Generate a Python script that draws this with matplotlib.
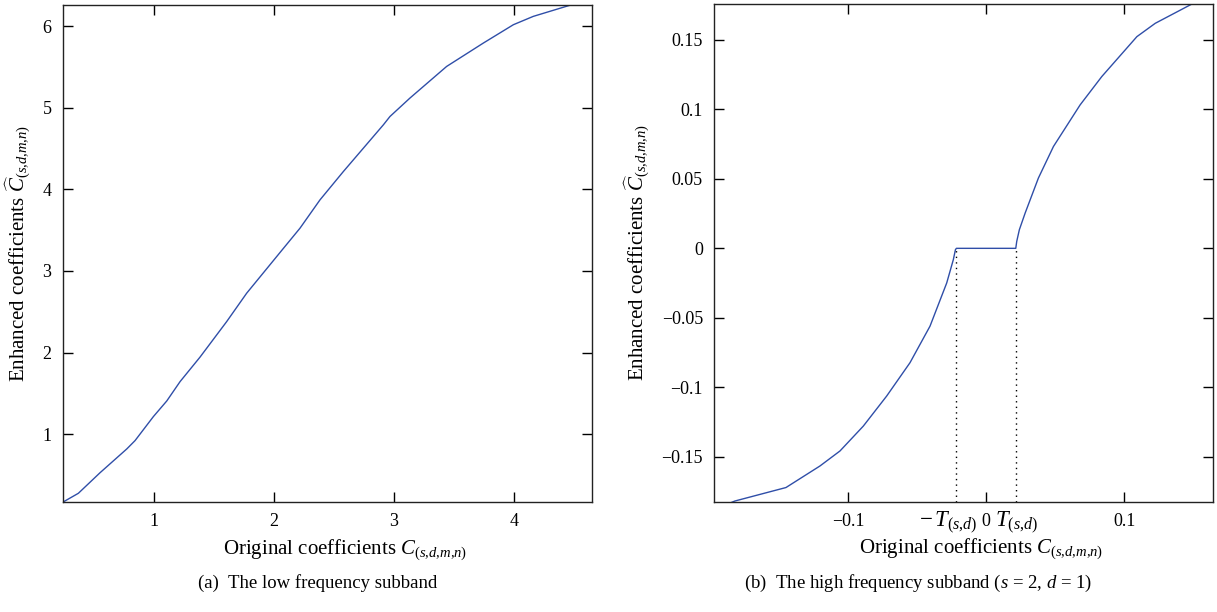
import numpy as np
import matplotlib
matplotlib.use("Agg")
import matplotlib.pyplot as plt
import matplotlib.transforms as mtransforms

plt.rcParams['font.family'] = ['Liberation Serif', 'DejaVu Serif']
plt.rcParams['mathtext.fontset'] = 'custom'
plt.rcParams['mathtext.rm'] = 'Liberation Serif'
plt.rcParams['mathtext.it'] = 'Liberation Serif:italic'
plt.rcParams['font.size'] = 13

# (a) low frequency subband: original -> enhanced coefficients
low_x = [0.235, 0.366, 0.547, 0.770, 0.839, 0.992, 1.104, 1.215, 1.381, 1.604,
         1.771, 1.938, 2.072, 2.216, 2.383, 2.578, 2.912, 2.967, 3.134, 3.440,
         3.746, 3.997, 4.163, 4.484, 4.656]
low_y = [0.167, 0.277, 0.529, 0.820, 0.922, 1.216, 1.408, 1.645, 1.944, 2.380,
         2.728, 3.027, 3.267, 3.524, 3.871, 4.218, 4.790, 4.892, 5.118, 5.505,
         5.791, 6.016, 6.118, 6.261, 6.300]

# (b) high frequency subband (s = 2, d = 1)
thr = 0.0215
high_x = [-0.197, -0.1819, -0.1449, -0.1203, -0.1058, -0.0889, -0.0720, -0.0551,
          -0.0406, -0.0285, -0.0237, -0.0222, -thr, thr, 0.0222, 0.0241, 0.0283,
          0.0379, 0.0488, 0.0681, 0.0838, 0.1092, 0.1225, 0.1491, 0.1643]
high_y = [-0.188, -0.1818, -0.1721, -0.1566, -0.1458, -0.1279, -0.1063, -0.0823,
          -0.0560, -0.0249, -0.0081, -0.0010, 0.0, 0.0, 0.0050, 0.0134, 0.0254,
          0.0506, 0.0733, 0.1032, 0.1236, 0.1523, 0.1619, 0.1758, 0.1850]

line_color = '#2f4ea8'
sub = '{(s{,}d{,}m{,}n)}'
label_size = 15

fig = plt.figure(figsize=(12.17, 6.12), dpi=100)
ax1 = fig.add_axes([0.0515, 0.1793, 0.4352, 0.813])
ax2 = fig.add_axes([0.5867, 0.1802, 0.41, 0.8133])

for ax in (ax1, ax2):
    ax.tick_params(direction='in', length=7, width=1, top=True, right=True,
                   labelsize=13, pad=8)
    for sp in ax.spines.values():
        sp.set_linewidth(1)
        sp.set_color('#222222')

# left panel
ax1.plot(low_x, low_y, color=line_color, linewidth=1)
ax1.set_xlim(0.235, 4.656)
ax1.set_ylim(0.167, 6.261)
ax1.set_xticks([1, 2, 3, 4])
ax1.set_yticks([1, 2, 3, 4, 5, 6])
ax1.set_xlabel('Original coefficients $C_' + sub + '$', fontsize=label_size)
ax1.xaxis.set_label_coords(0.533, -0.07)
ax1.set_ylabel('Enhanced coefficients $\\widehat{C}_' + sub + '$', fontsize=label_size,
               labelpad=7)

# right panel
ax2.plot(high_x, high_y, color=line_color, linewidth=1)
ax2.set_xlim(-0.197, 0.1643)
ax2.set_ylim(-0.1823, 0.1758)
ax2.set_xticks([-0.1, 0, 0.1])
ax2.set_xticklabels(['\u22120.1', '0', '0.1'])
ax2.set_yticks([-0.15, -0.1, -0.05, 0, 0.05, 0.1, 0.15])
ax2.set_yticklabels(['\u22120.15', '\u22120.1', '\u22120.05', '0', '0.05', '0.1', '0.15'])
ax2.plot([-thr, -thr], [-0.1823, 0], color='black', linestyle=(0, (1, 3)), linewidth=1)
ax2.plot([thr, thr], [-0.1823, 0], color='black', linestyle=(0, (1, 3)), linewidth=1)
trans = mtransforms.blended_transform_factory(ax2.transData, ax2.transAxes)
ax2.text(-0.0058, -0.017, '$-\\,T_{(s{,}d)}$', transform=trans, ha='right', va='top',
         fontsize=16.5)
ax2.text(0.0065, -0.017, '$T_{(s{,}d)}$', transform=trans, ha='left', va='top',
         fontsize=16.5)
ax2.set_xlabel('Original coefficients $C_' + sub + '$', fontsize=label_size)
ax2.xaxis.set_label_coords(0.536, -0.07)
ax2.set_ylabel('Enhanced coefficients $\\widehat{C}_' + sub + '$', fontsize=label_size,
               labelpad=7)

fig.text(0.261, 0.047, '(a)  The low frequency subband', ha='center', va='center',
         fontsize=13.5)
fig.text(0.754, 0.047, '(b)  The high frequency subband ($s$ = 2, $d$ = 1)',
         ha='center', va='center', fontsize=13.5)

fig.savefig('out.png', dpi=100)
